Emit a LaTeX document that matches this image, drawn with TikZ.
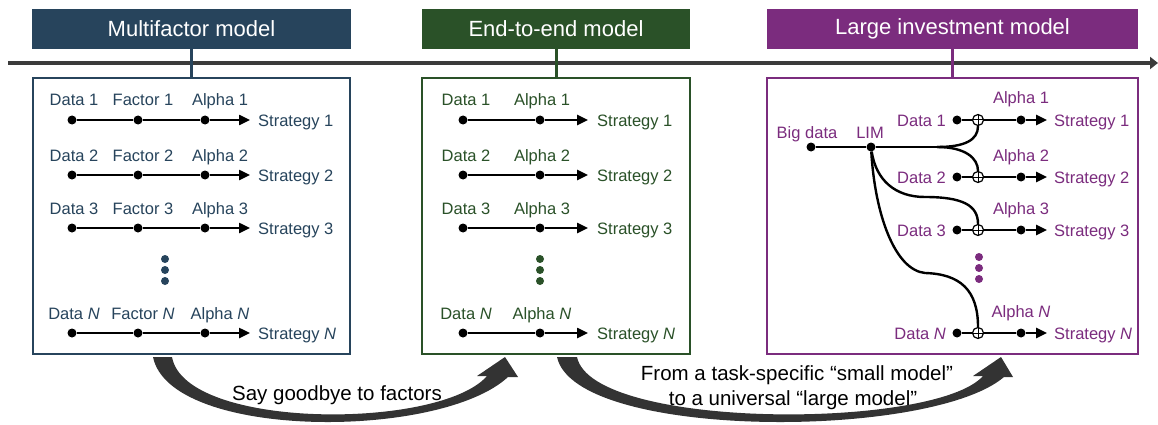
\documentclass[tikz,border=0pt]{standalone}
\usepackage{fontspec}
\setmainfont{Liberation Sans}
\usetikzlibrary{arrows.meta}
\definecolor{cblue}{HTML}{27445C}
\definecolor{cgreen}{HTML}{2A5128}
\definecolor{cpurp}{HTML}{7B2C7E}
\definecolor{caxis}{HTML}{3B3B3B}
\definecolor{carrow}{HTML}{333333}
\begin{document}
\begin{tikzpicture}[x=1pt,y=-1pt,
  lab/.style={font=\fontsize{16.5}{19}\selectfont, inner sep=0pt, anchor=base},
  dot/.style={circle, fill=black, inner sep=0pt, minimum size=9pt},
  cdot/.style={circle, fill=#1, inner sep=0pt, minimum size=8pt},
  flow/.style={line width=2.4pt, draw=black},
  arr/.style={flow, -{Triangle[length=11pt,width=10pt]}},
  head/.style={fill=#1, text=white, minimum height=40pt, inner sep=0pt, font=\fontsize{22}{25}\selectfont},
  panel/.style={draw=#1, line width=2.5pt, fill=white, inner sep=0pt, minimum height=276pt},
  conn/.style={draw=#1, line width=3pt},
  oplus/.style={circle, draw=black, line width=1.2pt, fill=white, minimum size=11pt, inner sep=0pt,
    path picture={\draw[line width=1pt] (path picture bounding box.north) -- (path picture bounding box.south)
      (path picture bounding box.west) -- (path picture bounding box.east);}},
  bigtext/.style={font=\fontsize{20.5}{24}\selectfont, inner sep=0pt, anchor=base, text=black},
]
\useasboundingbox (0,0) rectangle (1158,425);

% time axis
\coordinate (axl) at (8,63);
\coordinate (axr) at (1158,63);
\draw[draw=caxis, line width=4pt, -{Triangle[length=8pt,width=12pt]}] (axl) -- (axr);

% headers
\node[head=cblue, minimum width=319pt] (h1) at (191.5,29) {Multifactor model};
\node[head=cgreen, minimum width=268pt] (h2) at (556,29) {End-to-end model};
\node[head=cpurp, minimum width=371pt] (h3) at (952.5,29) {Large investment model};

% panels
\node[panel=cblue, minimum width=317pt] (b1) at (191.5,216) {};
\node[panel=cgreen, minimum width=268pt] (b2) at (556,216) {};
\node[panel=cpurp, minimum width=371pt] (b3) at (952.5,216) {};

\draw[conn=cblue] (h1.south) -- (b1.north);
\draw[conn=cgreen] (h2.south) -- (b2.north);
\draw[conn=cpurp] (h3.south) -- (b3.north);

% ---------------- Multifactor panel ----------------
\begin{scope}[every node/.append style={text=cblue}]
\foreach \i/\y/\n in {1/120/1, 2/175/2, 3/228/3, 4/333/\textit{N}} {
  \node[lab] (md\i) at (74,\y-14) {Data \n};
  \node[lab] (mf\i) at (143,\y-14) {Factor \n};
  \node[lab] (ma\i) at (220,\y-14) {Alpha \n};
  \node[lab, anchor=base west] (ms\i) at (258,\y+6) {Strategy \n};
  \node[dot] (mdd\i) at (72,\y) {};
  \node[dot] (mfd\i) at (138,\y) {};
  \node[dot] (mad\i) at (205,\y) {};
  \draw[arr, shorten >=8pt] (mdd\i) -- (mfd\i) -- (mad\i) -- (ms\i.west |- mad\i);
}
\end{scope}
\node[cdot=cblue] (mv1) at (165,259) {};
\node[cdot=cblue] (mv2) at (165,270) {};
\node[cdot=cblue] (mv3) at (165,281) {};

% ---------------- End-to-end panel ----------------
\begin{scope}[every node/.append style={text=cgreen}]
\foreach \i/\y/\n in {1/120/1, 2/175/2, 3/228/3, 4/333/\textit{N}} {
  \node[lab] (ed\i) at (466,\y-14) {Data \n};
  \node[lab] (ea\i) at (542,\y-14) {Alpha \n};
  \node[lab, anchor=base west] (es\i) at (597,\y+6) {Strategy \n};
  \node[dot] (edd\i) at (463,\y) {};
  \node[dot] (ead\i) at (540,\y) {};
  \draw[arr, shorten >=9pt] (edd\i) -- (ead\i) -- (es\i.west |- ead\i);
}
\end{scope}
\node[cdot=cgreen] (ev1) at (540,259) {};
\node[cdot=cgreen] (ev2) at (540,270) {};
\node[cdot=cgreen] (ev3) at (540,281) {};

% ---------------- Large investment panel ----------------
\node[lab, text=cpurp] (bdl) at (807,138) {Big data};
\node[lab, text=cpurp] (liml) at (870,138) {LIM};
\node[dot] (bd) at (811,147) {};
\node[dot] (lim) at (871,147) {};
\coordinate (br) at (937,147);
\coordinate (k3) at (925,197);
\coordinate (kN) at (925,273);

\begin{scope}[every node/.append style={text=cpurp}]
\foreach \i/\y/\n in {1/120/1, 2/177/2, 3/230/3, 4/333/\textit{N}} {
  \node[lab, anchor=base east] (ld\i) at (946,\y+6) {Data \n};
  \node[lab] (la\i) at (1021,\y-16) {Alpha \n};
  \node[lab, anchor=base west] (ls\i) at (1054,\y+6) {Strategy \n};
  \node[dot] (ldd\i) at (957,\y) {};
  \node[oplus] (lp\i) at (978,\y) {};
  \node[dot] (lad\i) at (1021,\y) {};
  \draw[flow] (ldd\i) -- (lp\i);
  \draw[arr, shorten >=7pt] (lp\i) -- (lad\i) -- (ls\i.west |- lad\i);
}
\end{scope}
\node[cdot=cpurp] (lv1) at (979,257) {};
\node[cdot=cpurp] (lv2) at (979,268) {};
\node[cdot=cpurp] (lv3) at (979,279) {};

\draw[flow] (bd) -- (lim) -- (br);
\draw[flow] (br) .. controls (965,147) and (978,140) .. (lp1.south);
\draw[flow] (br) .. controls (965,147) and (978,158) .. (lp2.north);
\draw[flow] (lim) .. controls (876,180) and (895,197) .. (k3) .. controls (962,197) and (978,205) .. (lp3.north);
\draw[flow] (lim) .. controls (875,215) and (895,270) .. (kN) .. controls (960,274) and (978,290) .. (lp4.north);

% ---------------- bottom curved arrows ----------------
\fill[carrow] (153,357) .. controls (170,440) and (440,440) .. (508,377) -- (518,377) -- (505,357) -- (477,376) -- (487,376)
  .. controls (440,430) and (185,430) .. (172,357) -- cycle;
\fill[carrow] (557,357) .. controls (575,440) and (930,440) .. (1004,377) -- (1013,377) -- (1001,357) -- (973,376) -- (983,376)
  .. controls (935,430) and (592,430) .. (577,357) -- cycle;

\node[bigtext] (t1) at (337,400) {Say goodbye to factors};
\node[bigtext] (t2) at (797,380) {From a task-specific “small model”};
\node[bigtext] (t3) at (793,405) {to a universal “large model”};
\end{tikzpicture}
\end{document}
